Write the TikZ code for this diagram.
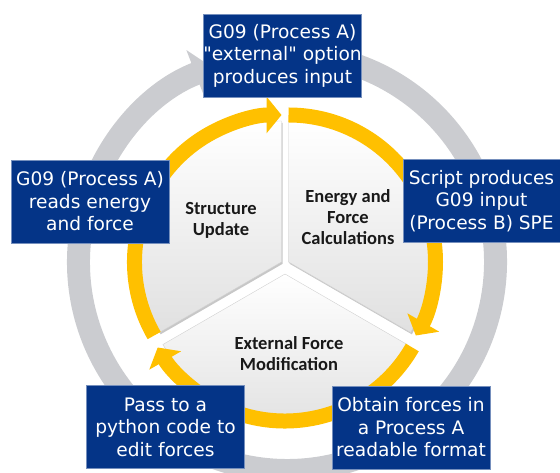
\documentclass[tikz,border=0pt]{standalone}
\usepackage{fontspec}
\setmainfont{DejaVu Sans}
\newfontfamily\lblfont{Carlito}
\usetikzlibrary{arrows.meta,calc}
\definecolor{boxblue}{RGB}{4,52,135}
\definecolor{ringgray}{RGB}{203,204,208}
\definecolor{gold}{RGB}{255,192,0}
\newcommand{\straightquote}{\XeTeXglyph\XeTeXcharglyph34\relax}
\begin{document}
\begin{tikzpicture}[x=1pt,y=1pt,
  infobox/.style={rectangle, fill=boxblue, draw=boxblue!55!white, line width=0.6pt, text=white, align=center, minimum width=158pt, minimum height=83pt, inner sep=0pt, font=\fontsize{18.6}{22.5}\selectfont},
  seclabel/.style={align=center, text=black!90, font=\lblfont\bfseries\fontsize{18.5}{21}\selectfont},
  goldarc/.style={draw=gold, line width=15pt, -{Triangle[width=36pt,length=15pt]}},
  sectorshadow/.style={fill=black!40, opacity=0.55},
  sectorface/.style={top color=white, bottom color=black!12, draw=black!18, line width=0.4pt}
]
\path[use as bounding box] (0,0) rectangle (560,473);
\coordinate (G) at (287,211);
\coordinate (Otl) at (281.5,211);
\coordinate (Otr) at (288.5,211);
\coordinate (Ob) at (285,199);

% gray outer ring
\draw[ringgray, line width=23pt, -{Triangle[width=50pt,length=18pt]}]
  ($(G)+(80:208.5)$) arc[start angle=80, end angle=-249, radius=208.5];

% sectors
\foreach \cn/\a/\b in {Otl/90/210, Otr/-30/90, Ob/210/330} {
  \fill[sectorshadow] ($(\cn)+(1.2,-1.8)$) -- +(\a:141) arc[start angle=\a, end angle=\b, radius=141] -- cycle;
  \shade[sectorface] (\cn) -- +(\a:141) arc[start angle=\a, end angle=\b, radius=141] -- cycle;
}

% gold arrows
\draw[goldarc] ($(Otl)+(210:147)$) arc[start angle=210, end angle=90, radius=147];
\draw[goldarc] ($(Otr)+(90:147)$) arc[start angle=90, end angle=-30, radius=147];
\draw[goldarc] ($(Ob)+(-30:147)$) arc[start angle=-30, end angle=-150, radius=147];

% boxes
\node[infobox] (top) at (282.5,417.5) {G09 (Process A)\\\straightquote external\straightquote{} option\\produces input};
\node[infobox] (left) at (90,271.5) {G09 (Process A)\\reads energy\\and force};
\node[infobox, minimum width=157pt] (right) at (481.5,272) {Script produces\\G09 input\\(Process B) SPE};
\node[infobox] (bl) at (165.5,46) {Pass to a\\python code to\\edit forces};
\node[infobox] (br) at (411,45.5) {Obtain forces in\\a Process A\\readable format};

% sector labels
\node[seclabel] (su) at (221,253) {Structure\\Update};
\node[seclabel] (ef) at (348,256) {Energy and\\Force\\Calculations};
\node[seclabel] (xf) at (289,119) {External Force\\Modification};
\end{tikzpicture}
\end{document}
